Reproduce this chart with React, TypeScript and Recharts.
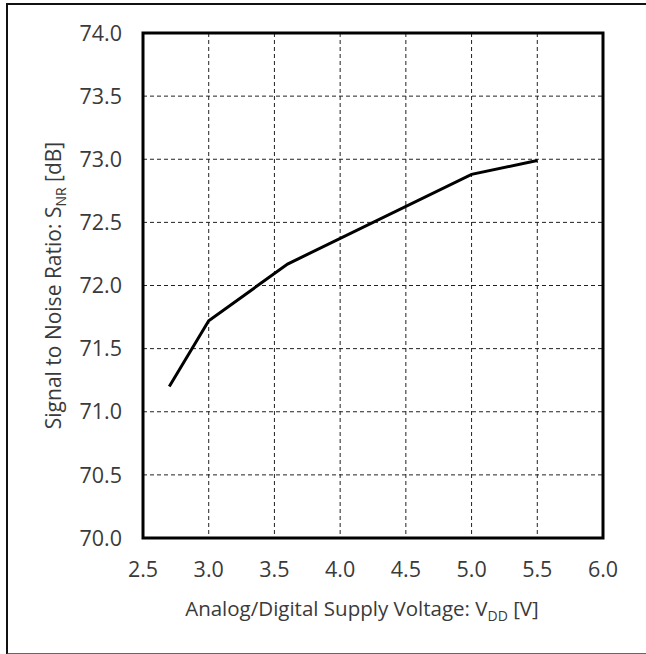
import { LineChart, Line, XAxis, YAxis, CartesianGrid, ReferenceArea, Label } from "recharts";

const voltage = [2.7, 3.0, 3.6, 5.0, 5.5];
const snr = [71.2, 71.72, 72.17, 72.88, 72.99];
const xTicks = [2.5, 3.0, 3.5, 4.0, 4.5, 5.0, 5.5, 6.0];
const yTicks = [70.0, 70.5, 71.0, 71.5, 72.0, 72.5, 73.0, 73.5, 74.0];

const data = voltage.map((v, i) => ({ vdd: v, snr: snr[i] }));

const FONT = "'Open Sans', 'Noto Sans', sans-serif";
const TEXT = "#3a3a3a";

function XLabel(props: any) {
  const { viewBox } = props;
  // title sits a little left of the plot centre in the original
  const cx = viewBox.x + viewBox.width / 2 - 11;
  return (
    <text x={cx} y={616} textAnchor="middle" fontFamily={FONT} fontSize={20.5} fill={TEXT}>
      Analog/Digital Supply Voltage: V
      <tspan dy={5} fontSize={14}>DD</tspan>
      <tspan dy={-5}> [V]</tspan>
    </text>
  );
}

function YLabel(props: any) {
  const { viewBox } = props;
  const cy = viewBox.y + viewBox.height / 2;
  const cx = 61;
  return (
    <text
      x={cx}
      y={cy}
      transform={`rotate(-90, ${cx}, ${cy})`}
      textAnchor="middle"
      fontFamily={FONT}
      fontSize={21}
      fill={TEXT}
    >
      Signal to Noise Ratio: S
      <tspan dy={5} fontSize={14}>NR</tspan>
      <tspan dy={-5}> [dB]</tspan>
    </text>
  );
}

export default function App() {
  return (
    <div style={{ position: "fixed", left: 0, top: 0, width: 646, height: 654, background: "#fff", overflow: "hidden" }}>
      {/* outer frame */}
      <div
        style={{
          position: "absolute",
          left: 6,
          top: 3,
          width: 700,
          height: 648,
          borderTop: "2px solid #111",
          borderLeft: "2px solid #111",
          borderBottom: "2px solid #666",
        }}
      />
      <div style={{ position: "absolute", left: 0, top: 0 }}>
        <LineChart width={646} height={654} data={data} margin={{ top: 33, right: 43, left: 0, bottom: 35 }}>
          <CartesianGrid stroke="#222" strokeDasharray="4 3" strokeWidth={1} />
          <XAxis
            dataKey="vdd"
            type="number"
            domain={[2.5, 6]}
            ticks={xTicks}
            interval={0}
            tickFormatter={(v: number) => v.toFixed(1)}
            axisLine={false}
            tickLine={false}
            tickSize={0}
            tickMargin={24}
            height={81}
            tick={{ fontFamily: FONT, fontSize: 21.5, fill: TEXT }}
          >
            <Label content={XLabel} />
          </XAxis>
          <YAxis
            type="number"
            domain={[70, 74]}
            ticks={yTicks}
            interval={0}
            tickFormatter={(v: number) => v.toFixed(1)}
            axisLine={false}
            tickLine={false}
            tickSize={0}
            tickMargin={21}
            width={143}
            tick={{ fontFamily: FONT, fontSize: 21.5, fill: TEXT }}
          >
            <Label content={YLabel} />
          </YAxis>
          <ReferenceArea
            x1={2.5}
            x2={6}
            y1={70}
            y2={74}
            fill="none"
            fillOpacity={0}
            stroke="#000"
            strokeWidth={3}
            ifOverflow="visible"
          />
          <Line
            dataKey="snr"
            stroke="#000"
            strokeWidth={3}
            dot={false}
            activeDot={false}
            isAnimationActive={false}
            type="linear"
          />
        </LineChart>
      </div>
    </div>
  );
}
